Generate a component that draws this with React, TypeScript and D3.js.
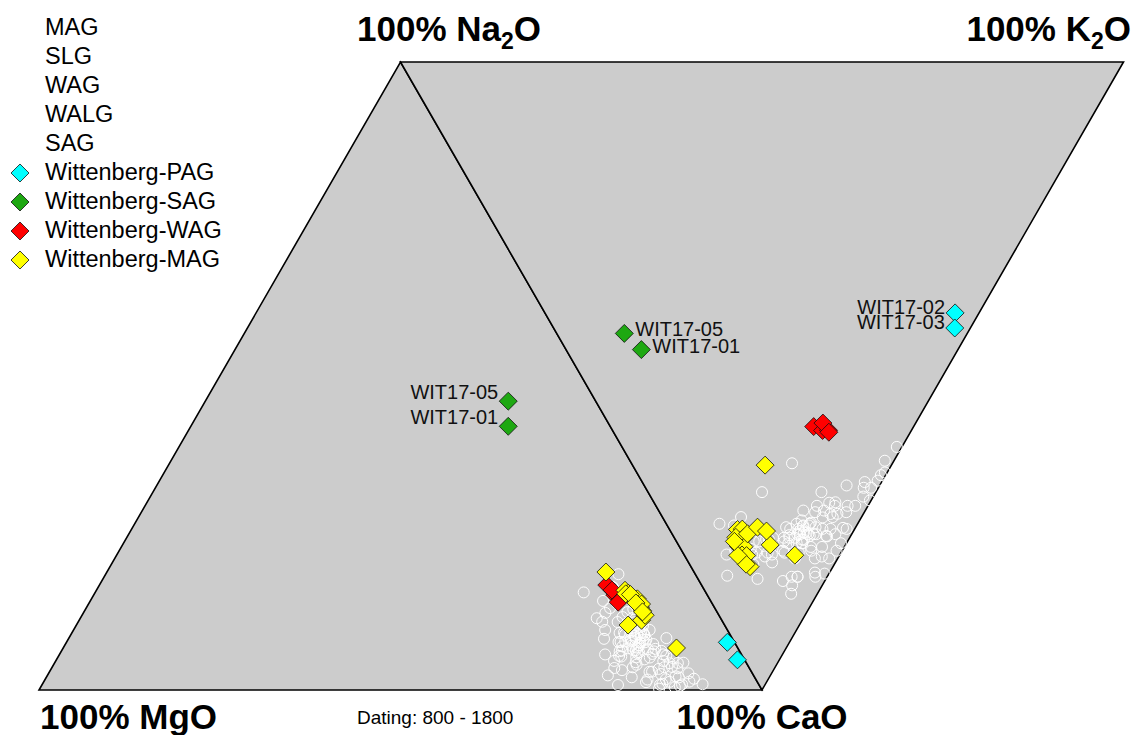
import React from 'react';
import * as d3 from 'd3';

const W = 1139;
const H = 735;
const FONT = '"Liberation Sans", Arial, Helvetica, sans-serif';

type Glass = { id?: string; MgO: number; CaO: number; Na2O: number; K2O: number };

// Wittenberg samples (oxide wt%)
const pagSamples: Glass[] = [
  { id: 'WIT17-02', MgO: 0.22, CaO: 20.0, Na2O: 1.66, K2O: 28.4 },
  { id: 'WIT17-03', MgO: 0.21, CaO: 20.0, Na2O: 1.02, K2O: 26.2 },
];
const sagSamples: Glass[] = [
  { id: 'WIT17-05', MgO: 2.31, CaO: 8.0, Na2O: 8.78, K2O: 1.73 },
  { id: 'WIT17-01', MgO: 2.57, CaO: 8.0, Na2O: 7.65, K2O: 1.82 },
];
const wagSamples: Glass[] = [
  { MgO: 2.99, CaO: 16.0, Na2O: 3.81, K2O: 7.75 },
  { MgO: 2.84, CaO: 16.0, Na2O: 3.35, K2O: 7.92 },
  { MgO: 2.73, CaO: 16.0, Na2O: 3.13, K2O: 8.15 },
  { MgO: 2.87, CaO: 16.0, Na2O: 3.57, K2O: 8.26 },
  { MgO: 2.82, CaO: 16.0, Na2O: 3.06, K2O: 8.08 },
];
const magSamples: Glass[] = [
  { MgO: 3.18, CaO: 18, Na2O: 4.90, K2O: 5.14 },
  { MgO: 1.80, CaO: 18, Na2O: 1.42, K2O: 3.50 },
  { MgO: 3.15, CaO: 18, Na2O: 2.44, K2O: 2.97 },
  { MgO: 2.57, CaO: 18, Na2O: 2.57, K2O: 1.83 },
  { MgO: 2.71, CaO: 18, Na2O: 3.91, K2O: 2.27 },
  { MgO: 2.63, CaO: 18, Na2O: 3.76, K2O: 2.44 },
  { MgO: 2.56, CaO: 18, Na2O: 3.60, K2O: 2.05 },
  { MgO: 2.52, CaO: 18, Na2O: 3.48, K2O: 2.28 },
  { MgO: 2.49, CaO: 18, Na2O: 3.42, K2O: 1.91 },
  { MgO: 2.44, CaO: 18, Na2O: 3.24, K2O: 2.08 },
  { MgO: 2.40, CaO: 18, Na2O: 3.10, K2O: 1.83 },
  { MgO: 2.38, CaO: 18, Na2O: 2.94, K2O: 1.96 },
  { MgO: 2.36, CaO: 18, Na2O: 2.75, K2O: 1.76 },
  { MgO: 2.74, CaO: 18, Na2O: 3.75, K2O: 2.03 },
  { MgO: 2.38, CaO: 18, Na2O: 3.46, K2O: 2.50 },
  { MgO: 2.31, CaO: 18, Na2O: 3.22, K2O: 1.69 },
  { MgO: 2.57, CaO: 18, Na2O: 3.69, K2O: 1.89 },
  { MgO: 2.50, CaO: 18, Na2O: 3.30, K2O: 3.00 },
  { MgO: 2.40, CaO: 18, Na2O: 2.90, K2O: 3.20 },
];

// Reference glasses (MAG, SLG, WAG, WALG, SAG) as [MgO, CaO, Na2O, K2O]
const referenceGlasses: number[][] = [
  [3.6, 20, 2.0, 4.6], [3.4, 20, 1.8, 4.9], [3.8, 21, 2.2, 4.2], [3.2, 19, 1.7, 5.2],
  [4.0, 20, 2.4, 4.0], [3.5, 20, 1.5, 5.5], [3.0, 20, 2.0, 4.4], [3.9, 19, 1.9, 4.8],
  [3.3, 21, 2.1, 5.0], [3.7, 20, 1.6, 4.5], [3.1, 20, 2.3, 3.9], [4.2, 20, 2.0, 5.1],
  [3.6, 22, 2.5, 4.7], [3.4, 19, 1.4, 5.8], [2.8, 20, 1.8, 4.3], [4.4, 21, 1.7, 4.9],
  [3.5, 20, 2.8, 3.6], [3.0, 19, 1.2, 6.2], [3.8, 20, 1.1, 6.5], [2.6, 20, 1.5, 4.1],
  [4.6, 20, 2.6, 4.4], [3.2, 20, 3.0, 3.3], [2.9, 21, 0.9, 5.9], [4.1, 19, 1.3, 6.8],
  [3.3, 20, 0.7, 7.2], [2.5, 20, 0.5, 7.8], [3.6, 20, 0.4, 8.5], [2.8, 20, 0.3, 9.2],
  [3.2, 20, 0.2, 10.2], [2.4, 20, 0.2, 9.8], [3.0, 20, 0.6, 8.9], [4.5, 20, 0.8, 7.5],
  [2.2, 20, 1.0, 6.8], [2.0, 20, 0.6, 6.0], [2.3, 20, 1.2, 3.2], [2.0, 20, 1.0, 3.0],
  [2.6, 21, 0.9, 2.9], [3.0, 20, 1.4, 2.8], [3.8, 20, 1.0, 3.4], [4.2, 20, 0.5, 4.1],
  [4.8, 20, 0.9, 5.6], [5.0, 20, 1.5, 3.8], [4.8, 20, 2.2, 4.2], [4.8, 20, 3.2, 3.0],
  [4.0, 20, 3.6, 2.2], [4.2, 20, 4.0, 1.5], [3.6, 20, 3.8, 1.9], [4.6, 20, 3.0, 2.6],
  [3.3, 20, 3.3, 2.5], [2.9, 20, 2.6, 2.8], [2.7, 20, 2.4, 5.6], [3.1, 20, 1.9, 6.0],
  [3.9, 20, 2.0, 6.3], [4.3, 20, 1.6, 6.9], [2.5, 20, 1.3, 5.3], [3.7, 20, 0.3, 6.6],
  [4.9, 20, 0.2, 5.9], [2.1, 20, 0.3, 5.0], [1.9, 20, 0.4, 4.0], [2.2, 20, 2.0, 3.6],
  [3.0, 20, 5.2, 2.0], [5.0, 20, 4.6, 2.5], [3.5, 20, 4.35, 6.95], [3.5, 20, 4.6, 4.6],
  [3.5, 20, 4.6, 3.0], [3.0, 20, 2.2, 7.0], [2.6, 20, 1.36, 8.3], [3.4, 20, 0.7, 9.2],
  [2.9, 20, 0.4, 11.1], [3.1, 20, 0.23, 12.4], [2.7, 20, 0.1, 10.5], [3.3, 20, 0.05, 8.6],
  [2.4, 20, 0.46, 6.5], [2.5, 20, 0.15, 4.4], [2.5, 20, 1.0, 3.4], [3.0, 20, 2.3, 2.0],
  [3.0, 20, 3.4, 1.05], [3.0, 20, 2.2, 2.9], [3.5, 20, 1.7, 5.0], [3.3, 20, 1.9, 4.7],
  [3.7, 20, 1.8, 5.3], [3.2, 20, 2.1, 4.8], [3.9, 20, 1.7, 4.6], [3.4, 20, 2.2, 5.2],
  [3.6, 20, 1.6, 5.0], [3.1, 20, 1.6, 4.5], [4.1, 20, 1.8, 5.4], [3.5, 20, 2.4, 4.5],
  [2.9, 20, 1.5, 5.0], [3.8, 20, 2.3, 4.9], [4.4, 20, 1.4, 5.2], [2.7, 20, 1.1, 4.6],
  [4.7, 20, 1.2, 4.7], [3.0, 20, 0.8, 5.1], [5.2, 20, 0.6, 4.8], [2.3, 20, 0.8, 4.5],
  [4.0, 20, 0.9, 6.0], [3.4, 20, 1.2, 5.7], [2.8, 20, 1.6, 6.4], [3.7, 20, 1.3, 7.0],
  [1.7, 20, 0.2, 5.5], [3.3, 20, 2.6, 3.0], [3.9, 20, 2.9, 3.4], [3.6, 20, 3.1, 2.4],
  [4.3, 20, 3.4, 2.8], [3.2, 20, 2.8, 2.2], [3.4, 20, 2.1, 3.6], [3.8, 20, 2.4, 3.1],
];

const referenceNames = ['MAG', 'SLG', 'WAG', 'WALG', 'SAG'];
const seriesNames = ['Wittenberg-PAG', 'Wittenberg-SAG', 'Wittenberg-WAG', 'Wittenberg-MAG'];
const seriesColors = ['#00ffff', '#1ea812', '#ff0000', '#ffff00'];
const datingLabel = 'Dating: 800 - 1800';

// ternary -> cartesian scales (unit base = MgO..CaO, unit height = to Na2O/K2O)
const xs = d3.scaleLinear().domain([0, 1]).range([39, 762]);
const ys = d3.scaleLinear().domain([0, 1]).range([690, 62]);

function leftPos(g: Glass): [number, number] {
  const t = g.MgO + g.CaO + g.Na2O;
  const n = g.Na2O / t;
  const c = g.CaO / t;
  return [xs(c + n / 2), ys(n)];
}
function rightPos(g: Glass): [number, number] {
  const t = g.Na2O + g.K2O + g.CaO;
  const n = g.Na2O / t;
  const k = g.K2O / t;
  const c = g.CaO / t;
  return [xs(0.5 * n + 1.5 * k + c), ys(n + k)];
}

const diamond = (x: number, y: number, r: number) =>
  `M${x},${y - r}L${x + r},${y}L${x},${y + r}L${x - r},${y}Z`;

const leftTri: [number, number][] = [[0, 0], [1, 0], [0.5, 1]];
const rightTri: [number, number][] = [[0.5, 1], [1.5, 1], [1, 0]];
const polyPath = (pts: [number, number][]) =>
  d3.line()(pts.map(([u, v]) => [xs(u), ys(v)] as [number, number])) + 'Z';

const R = 9;

function Diamonds({ data, color }: { data: Glass[]; color: string }) {
  return (
    <g>
      {data.map((g, i) => {
        const [lx, ly] = leftPos(g);
        const [rx, ry] = rightPos(g);
        return (
          <g key={i}>
            <path d={diamond(lx, ly, R)} fill={color} stroke="#111" strokeWidth={0.8} />
            <path d={diamond(rx, ry, R)} fill={color} stroke="#111" strokeWidth={0.8} />
          </g>
        );
      })}
    </g>
  );
}

export default function App() {
  const refs: Glass[] = referenceGlasses.map(([MgO, CaO, Na2O, K2O]) => ({ MgO, CaO, Na2O, K2O }));
  const labelStyle = { fontFamily: FONT, fontSize: 20, fill: '#111' } as const;
  return (
    <svg
      width={W}
      height={H}
      viewBox={`0 0 ${W} ${H}`}
      style={{ position: 'absolute', left: 0, top: 0, display: 'block', background: '#fff' }}
    >
      <path d={polyPath(leftTri)} fill="#cccccc" stroke="#000" strokeWidth={1.6} />
      <path d={polyPath(rightTri)} fill="#cccccc" stroke="#000" strokeWidth={1.6} />

      <g fill="none" stroke="#ffffff" strokeWidth={1}>
        {refs.map((g, i) => {
          const [lx, ly] = leftPos(g);
          const [rx, ry] = rightPos(g);
          return (
            <g key={i}>
              <circle cx={lx} cy={ly} r={5.5} />
              <circle cx={rx} cy={ry} r={5.5} />
            </g>
          );
        })}
      </g>

      <Diamonds data={pagSamples} color={seriesColors[0]} />
      <Diamonds data={sagSamples} color={seriesColors[1]} />
      <Diamonds data={wagSamples} color={seriesColors[2]} />
      <Diamonds data={magSamples} color={seriesColors[3]} />

      {/* sample labels */}
      {sagSamples.map((g, i) => {
        const [lx, ly] = leftPos(g);
        const [rx, ry] = rightPos(g);
        return (
          <g key={i}>
            <text x={lx - 10} y={ly - 2} textAnchor="end" style={labelStyle}>{g.id}</text>
            <text x={rx + 11} y={ry + 3} textAnchor="start" style={labelStyle}>{g.id}</text>
          </g>
        );
      })}
      {pagSamples.map((g, i) => {
        const [rx, ry] = rightPos(g);
        return (
          <text key={i} x={rx - 10} y={ry + 1} textAnchor="end" style={labelStyle}>{g.id}</text>
        );
      })}

      {/* vertex labels */}
      <g style={{ fontFamily: FONT, fontWeight: 'bold', fontSize: 35 }} fill="#000">
        <text x={357} y={41}>
          100% Na<tspan fontSize={23} dy={8}>2</tspan><tspan dy={-8}>O</tspan>
        </text>
        <text x={1131} y={41} textAnchor="end">
          100% K<tspan fontSize={23} dy={8}>2</tspan><tspan dy={-8}>O</tspan>
        </text>
        <text x={40} y={729}>100% MgO</text>
        <text x={762} y={729} textAnchor="middle">100% CaO</text>
      </g>
      <text x={357} y={724} style={{ fontFamily: FONT, fontSize: 19 }} fill="#000">{datingLabel}</text>

      {/* legend */}
      <g style={{ fontFamily: FONT, fontSize: 23.5 }} fill="#000">
        {referenceNames.map((n, i) => (
          <text key={n} x={45} y={35 + i * 29}>{n}</text>
        ))}
        {seriesNames.map((n, i) => {
          const y = 35 + (i + 5) * 29;
          return (
            <g key={n}>
              <path d={diamond(20, y - 7, R)} fill={seriesColors[i]} stroke="#111" strokeWidth={0.8} />
              <text x={45} y={y}>{n}</text>
            </g>
          );
        })}
      </g>
    </svg>
  );
}
